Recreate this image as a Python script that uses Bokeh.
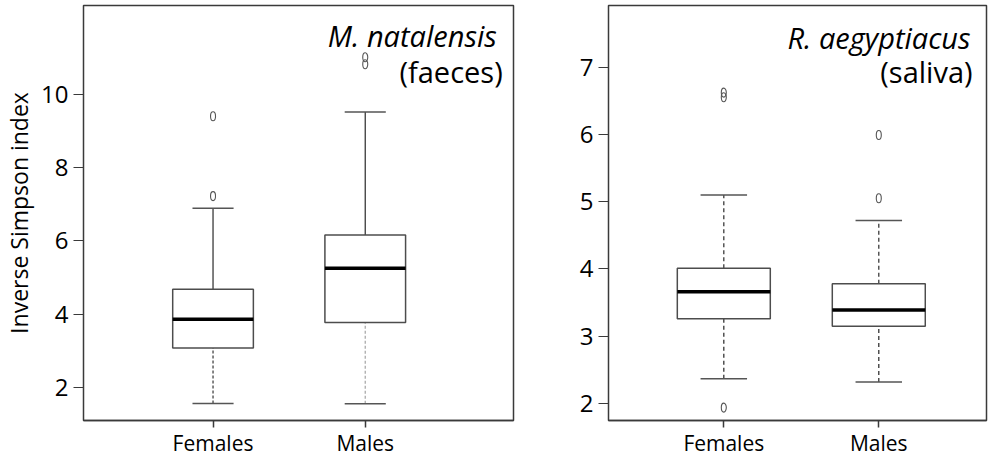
from bokeh.plotting import figure
from bokeh.models import Range1d, FixedTicker, Label
from bokeh.layouts import row
from bokeh.embed import file_html
from bokeh.resources import INLINE

# ---------------- data ----------------
categories = ["Females", "Males"]
cat_pos = [1, 2]

# M. natalensis (faeces)
mn_q1 = [3.07, 3.77]
mn_med = [3.86, 5.25]
mn_q3 = [4.68, 6.16]
mn_lo = [1.56, 1.55]
mn_hi = [6.89, 9.52]
mn_out_cat = [1, 1, 2, 2]
mn_out_val = [7.22, 9.40, 10.82, 11.01]

# R. aegyptiacus (saliva)
ra_q1 = [3.26, 3.15]
ra_med = [3.66, 3.39]
ra_q3 = [4.01, 3.78]
ra_lo = [2.37, 2.32]
ra_hi = [5.10, 4.72]
ra_out_cat = [1, 1, 1, 2, 2]
ra_out_val = [6.55, 6.62, 1.94, 5.05, 5.99]

FONT = "Open Sans"
DARK = "#3a3a3a"
BOXC = "#4d4d4d"


def make_panel(width, border_left, border_right, xr, yr, yticks, show_ylabel):
    p = figure(width=width, height=459, output_backend="svg", toolbar_location=None,
               x_range=Range1d(*xr), y_range=Range1d(*yr),
               min_border_left=border_left, min_border_right=border_right,
               min_border_top=5, min_border_bottom=38)
    p.grid.visible = False
    p.outline_line_color = DARK
    p.outline_line_width = 1.5
    p.background_fill_color = "white"
    p.border_fill_color = "white"

    xa = p.xaxis[0]
    xa.ticker = FixedTicker(ticks=cat_pos)
    xa.major_label_overrides = {c: n for c, n in zip(cat_pos, categories)}
    xa.axis_line_color = DARK
    xa.axis_line_width = 1.5
    xa.major_tick_out = 7
    xa.major_tick_in = 0
    xa.major_tick_line_color = DARK
    xa.major_tick_line_width = 1.5
    xa.minor_tick_line_color = None
    xa.major_label_text_font = FONT
    xa.major_label_text_font_size = "21px"
    xa.major_label_text_color = "black"
    xa.major_label_standoff = 1

    ya = p.yaxis[0]
    ya.ticker = FixedTicker(ticks=yticks)
    ya.axis_line_color = None
    ya.major_tick_out = 10
    ya.major_tick_in = 0
    ya.major_tick_line_color = DARK
    ya.major_tick_line_width = 1.2
    ya.minor_tick_line_color = None
    ya.major_label_text_font = FONT
    ya.major_label_text_font_size = "24px"
    ya.major_label_text_color = "black"
    ya.major_label_standoff = 5
    if show_ylabel:
        ya.axis_label = "Inverse Simpson index"
        ya.axis_label_text_font = FONT
        ya.axis_label_text_font_size = "23px"
        ya.axis_label_text_font_style = "normal"
        ya.axis_label_text_color = "black"
        ya.axis_label_standoff = 3
    return p


def draw_boxes(p, q1, med, q3, lo, hi, out_cat, out_val, box_w, cap_w,
               up_dash, lo_dash, lo_colors):
    left = [c - box_w / 2 for c in cat_pos]
    right = [c + box_w / 2 for c in cat_pos]
    cl = [c - cap_w / 2 for c in cat_pos]
    cr = [c + cap_w / 2 for c in cat_pos]
    # whiskers
    p.segment(x0=cat_pos, y0=q3, x1=cat_pos, y1=hi, line_color=DARK, line_width=1.3,
              line_dash=up_dash)
    p.segment(x0=cat_pos, y0=lo, x1=cat_pos, y1=q1, line_color=lo_colors, line_width=1.3,
              line_dash=lo_dash)
    # caps
    p.segment(x0=cl, y0=hi, x1=cr, y1=hi, line_color="#555555", line_width=1.5)
    p.segment(x0=cl, y0=lo, x1=cr, y1=lo, line_color="#555555", line_width=1.5)
    # boxes
    p.quad(left=left, right=right, bottom=q1, top=q3, fill_color="white",
           line_color=BOXC, line_width=1.5)
    # medians
    p.segment(x0=left, y0=med, x1=right, y1=med, line_color="black", line_width=3.5)
    # outliers
    p.ellipse(x=out_cat, y=out_val, width=5, height=9, width_units="screen",
              height_units="screen", fill_color=None, line_color="#555555", line_width=1.1)


# ---------- left panel ----------
p1 = make_panel(520, 78, 7, (0.149, 2.974), (1.093, 12.425), [2, 4, 6, 8, 10], True)
draw_boxes(p1, mn_q1, mn_med, mn_q3, mn_lo, mn_hi, mn_out_cat, mn_out_val,
           0.53, 0.27, "solid", "3 2", ["#444444", "#aaaaaa"])
p1.add_layout(Label(x=2.864, y=11.61, text="M. natalensis", text_align="right",
                    text_baseline="alphabetic", text_font=FONT, text_font_style="italic",
                    text_font_size="29px", text_color="black"))
p1.add_layout(Label(x=2.903, y=10.63, text="(faeces)", text_align="right",
                    text_baseline="alphabetic", text_font=FONT,
                    text_font_size="29px", text_color="black"))

# ---------- right panel ----------
p2 = make_panel(470, 88, 4, (0.256, 2.695), (1.748, 7.914), [2, 3, 4, 5, 6, 7], False)
draw_boxes(p2, ra_q1, ra_med, ra_q3, ra_lo, ra_hi, ra_out_cat, ra_out_val,
           0.60, 0.30, "4 3", "4 3", ["#333333", "#333333"])
p2.add_layout(Label(x=2.592, y=7.44, text="R. aegyptiacus", text_align="right",
                    text_baseline="alphabetic", text_font=FONT, text_font_style="italic",
                    text_font_size="29px", text_color="black"))
p2.add_layout(Label(x=2.605, y=6.94, text="(saliva)", text_align="right",
                    text_baseline="alphabetic", text_font=FONT,
                    text_font_size="29px", text_color="black"))

layout = row(p1, p2, spacing=0)
open("out.html", "w").write(file_html(layout, INLINE))
